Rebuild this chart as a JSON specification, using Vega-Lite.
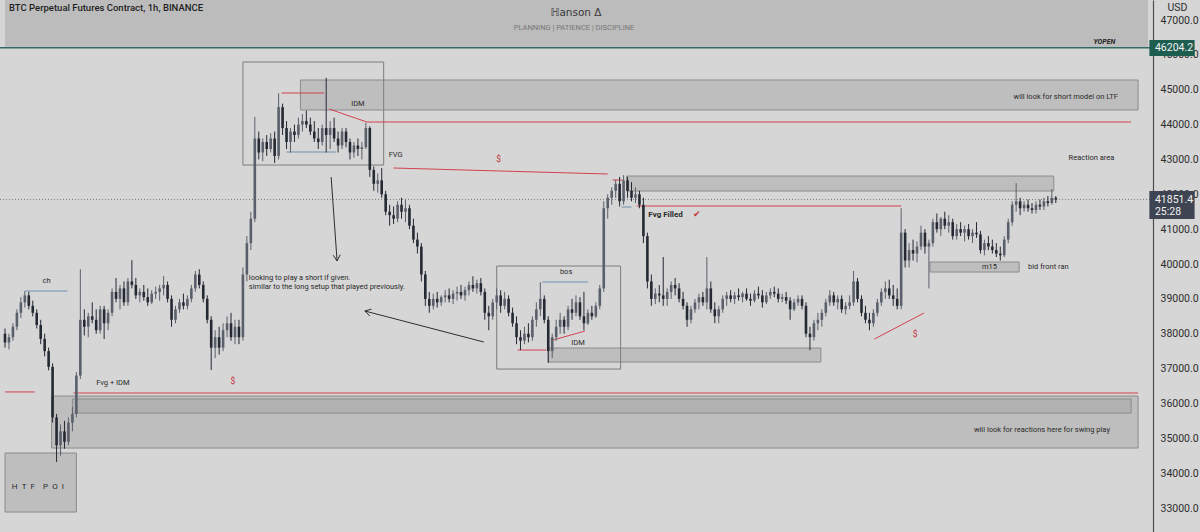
{
  "$schema": "https://vega.github.io/schema/vega-lite/v6.json",
  "width": 1153,
  "height": 532,
  "autosize": {"type": "none"},
  "padding": {"left": 0, "top": 0, "right": 47, "bottom": 0},
  "background": "#d6d6d6",
  "config": {"view": {"stroke": null}, "font": "Roboto"},
  "datasets": {
    "candles": [
      {"t":0,"o":38000,"h":38150,"l":37600,"c":37750},
      {"t":1,"o":37750,"h":38000,"l":37550,"c":37900},
      {"t":2,"o":37900,"h":38300,"l":37800,"c":38200},
      {"t":3,"o":38200,"h":38700,"l":38100,"c":38600},
      {"t":4,"o":38600,"h":39050,"l":38450,"c":38900},
      {"t":5,"o":38900,"h":39230,"l":38750,"c":39100},
      {"t":6,"o":39100,"h":39200,"l":38700,"c":38800},
      {"t":7,"o":38800,"h":38950,"l":38500,"c":38600},
      {"t":8,"o":38600,"h":38700,"l":38150,"c":38250},
      {"t":9,"o":38250,"h":38400,"l":37700,"c":37850},
      {"t":10,"o":37850,"h":38000,"l":37350,"c":37500},
      {"t":11,"o":37500,"h":37600,"l":36950,"c":37050},
      {"t":12,"o":37050,"h":37150,"l":35450,"c":35600},
      {"t":13,"o":35600,"h":35700,"l":34320,"c":34800},
      {"t":14,"o":34800,"h":35400,"l":34500,"c":35200},
      {"t":15,"o":35200,"h":35500,"l":34700,"c":34900},
      {"t":16,"o":34900,"h":35600,"l":34800,"c":35450},
      {"t":17,"o":35450,"h":35900,"l":35200,"c":35700},
      {"t":18,"o":35700,"h":36900,"l":35600,"c":36800},
      {"t":19,"o":36800,"h":39850,"l":36700,"c":38400},
      {"t":20,"o":38400,"h":38700,"l":37950,"c":38200},
      {"t":21,"o":38200,"h":38600,"l":37900,"c":38500},
      {"t":22,"o":38500,"h":38900,"l":38300,"c":38400},
      {"t":23,"o":38400,"h":38700,"l":38000,"c":38100},
      {"t":24,"o":38100,"h":38800,"l":38000,"c":38700},
      {"t":25,"o":38700,"h":38800,"l":37850,"c":38300},
      {"t":26,"o":38300,"h":38700,"l":38100,"c":38600},
      {"t":27,"o":38600,"h":39300,"l":38500,"c":39200},
      {"t":28,"o":39200,"h":39600,"l":38900,"c":39000},
      {"t":29,"o":39000,"h":39400,"l":38700,"c":39300},
      {"t":30,"o":39300,"h":39500,"l":38800,"c":38900},
      {"t":31,"o":38900,"h":39600,"l":38800,"c":39500},
      {"t":32,"o":39500,"h":40110,"l":39300,"c":39400},
      {"t":33,"o":39400,"h":39600,"l":39000,"c":39100},
      {"t":34,"o":39100,"h":39300,"l":38900,"c":39200},
      {"t":35,"o":39200,"h":39400,"l":38950,"c":39050},
      {"t":36,"o":39050,"h":39300,"l":38800,"c":38900},
      {"t":37,"o":38900,"h":39250,"l":38850,"c":39150},
      {"t":38,"o":39150,"h":39350,"l":39000,"c":39200},
      {"t":39,"o":39200,"h":39400,"l":38950,"c":39300},
      {"t":40,"o":39300,"h":39650,"l":39100,"c":39400},
      {"t":41,"o":39400,"h":39500,"l":38900,"c":39000},
      {"t":42,"o":39000,"h":39100,"l":38200,"c":38400},
      {"t":43,"o":38400,"h":38800,"l":38300,"c":38700},
      {"t":44,"o":38700,"h":39000,"l":38600,"c":38900},
      {"t":45,"o":38900,"h":39150,"l":38700,"c":38800},
      {"t":46,"o":38800,"h":39100,"l":38700,"c":39000},
      {"t":47,"o":39000,"h":39400,"l":38900,"c":39300},
      {"t":48,"o":39300,"h":39800,"l":39200,"c":39700},
      {"t":49,"o":39700,"h":39850,"l":39300,"c":39400},
      {"t":50,"o":39400,"h":39500,"l":38900,"c":39000},
      {"t":51,"o":39000,"h":39100,"l":38300,"c":38400},
      {"t":52,"o":38400,"h":38500,"l":36960,"c":37600},
      {"t":53,"o":37600,"h":38100,"l":37300,"c":37900},
      {"t":54,"o":37900,"h":38200,"l":37400,"c":37600},
      {"t":55,"o":37600,"h":38300,"l":37500,"c":38100},
      {"t":56,"o":38100,"h":38500,"l":37900,"c":38300},
      {"t":57,"o":38300,"h":38600,"l":37800,"c":37900},
      {"t":58,"o":37900,"h":38400,"l":37700,"c":38200},
      {"t":59,"o":38200,"h":38400,"l":37700,"c":37900},
      {"t":60,"o":37900,"h":39900,"l":37800,"c":39700},
      {"t":61,"o":39700,"h":40800,"l":39500,"c":40600},
      {"t":62,"o":40600,"h":41500,"l":40400,"c":41300},
      {"t":63,"o":41300,"h":44220,"l":41200,"c":43600},
      {"t":64,"o":43600,"h":43800,"l":43000,"c":43200},
      {"t":65,"o":43200,"h":43600,"l":42950,"c":43500},
      {"t":66,"o":43500,"h":43700,"l":43100,"c":43300},
      {"t":67,"o":43300,"h":43750,"l":43200,"c":43600},
      {"t":68,"o":43600,"h":43800,"l":42900,"c":43100},
      {"t":69,"o":43100,"h":44900,"l":43000,"c":44500},
      {"t":70,"o":44500,"h":44600,"l":43700,"c":43900},
      {"t":71,"o":43900,"h":44100,"l":43300,"c":43500},
      {"t":72,"o":43500,"h":43900,"l":43200,"c":43800},
      {"t":73,"o":43800,"h":44000,"l":43500,"c":43700},
      {"t":74,"o":43700,"h":44200,"l":43600,"c":44000},
      {"t":75,"o":44000,"h":44300,"l":43800,"c":44100},
      {"t":76,"o":44100,"h":44400,"l":43900,"c":44000},
      {"t":77,"o":44000,"h":44200,"l":43700,"c":43800},
      {"t":78,"o":43800,"h":44100,"l":43500,"c":43600},
      {"t":79,"o":43600,"h":43900,"l":43300,"c":43500},
      {"t":80,"o":43500,"h":44000,"l":43400,"c":43900},
      {"t":81,"o":43900,"h":45340,"l":43200,"c":43700},
      {"t":82,"o":43700,"h":44100,"l":43300,"c":43900},
      {"t":83,"o":43900,"h":44200,"l":43500,"c":43600},
      {"t":84,"o":43600,"h":43800,"l":43200,"c":43400},
      {"t":85,"o":43400,"h":43900,"l":43300,"c":43800},
      {"t":86,"o":43800,"h":43900,"l":43350,"c":43500},
      {"t":87,"o":43500,"h":43600,"l":43000,"c":43200},
      {"t":88,"o":43200,"h":43500,"l":43050,"c":43400},
      {"t":89,"o":43400,"h":43600,"l":43100,"c":43300},
      {"t":90,"o":43300,"h":43500,"l":43000,"c":43350},
      {"t":91,"o":43350,"h":44050,"l":43300,"c":43900},
      {"t":92,"o":43900,"h":43950,"l":42500,"c":42700},
      {"t":93,"o":42700,"h":42800,"l":42100,"c":42300},
      {"t":94,"o":42300,"h":42600,"l":42050,"c":42400},
      {"t":95,"o":42400,"h":42750,"l":41900,"c":42000},
      {"t":96,"o":42000,"h":42100,"l":41400,"c":41500},
      {"t":97,"o":41500,"h":41700,"l":41100,"c":41400},
      {"t":98,"o":41400,"h":41650,"l":41150,"c":41300},
      {"t":99,"o":41300,"h":41800,"l":41200,"c":41700},
      {"t":100,"o":41700,"h":41900,"l":41300,"c":41500},
      {"t":101,"o":41500,"h":41850,"l":41200,"c":41600},
      {"t":102,"o":41600,"h":41700,"l":41000,"c":41100},
      {"t":103,"o":41100,"h":41300,"l":40600,"c":40700},
      {"t":104,"o":40700,"h":40900,"l":40300,"c":40500},
      {"t":105,"o":40500,"h":40600,"l":39500,"c":39700},
      {"t":106,"o":39700,"h":39800,"l":38800,"c":39000},
      {"t":107,"o":39000,"h":39200,"l":38600,"c":38800},
      {"t":108,"o":38800,"h":39150,"l":38700,"c":39000},
      {"t":109,"o":39000,"h":39200,"l":38750,"c":38900},
      {"t":110,"o":38900,"h":39100,"l":38800,"c":39050},
      {"t":111,"o":39050,"h":39250,"l":38900,"c":39100},
      {"t":112,"o":39100,"h":39300,"l":38900,"c":39000},
      {"t":113,"o":39000,"h":39250,"l":38850,"c":39150},
      {"t":114,"o":39150,"h":39350,"l":38950,"c":39200},
      {"t":115,"o":39200,"h":39400,"l":39000,"c":39100},
      {"t":116,"o":39100,"h":39350,"l":38950,"c":39250},
      {"t":117,"o":39250,"h":39500,"l":39100,"c":39400},
      {"t":118,"o":39400,"h":39650,"l":39200,"c":39300},
      {"t":119,"o":39300,"h":39550,"l":39150,"c":39450},
      {"t":120,"o":39450,"h":39600,"l":39100,"c":39200},
      {"t":121,"o":39200,"h":39300,"l":38400,"c":38600},
      {"t":122,"o":38600,"h":38800,"l":38100,"c":38500},
      {"t":123,"o":38500,"h":39000,"l":38400,"c":38900},
      {"t":124,"o":38900,"h":39300,"l":38700,"c":39100},
      {"t":125,"o":39100,"h":39250,"l":38600,"c":38800},
      {"t":126,"o":38800,"h":39200,"l":38700,"c":39000},
      {"t":127,"o":39000,"h":39100,"l":38500,"c":38600},
      {"t":128,"o":38600,"h":38750,"l":38200,"c":38300},
      {"t":129,"o":38300,"h":38500,"l":37700,"c":37900},
      {"t":130,"o":37900,"h":38100,"l":37530,"c":37800},
      {"t":131,"o":37800,"h":38200,"l":37700,"c":38000},
      {"t":132,"o":38000,"h":38300,"l":37750,"c":37900},
      {"t":133,"o":37900,"h":38500,"l":37800,"c":38400},
      {"t":134,"o":38400,"h":38900,"l":38200,"c":38700},
      {"t":135,"o":38700,"h":39480,"l":38500,"c":39000},
      {"t":136,"o":39000,"h":39100,"l":38300,"c":38400},
      {"t":137,"o":38400,"h":38500,"l":37160,"c":37500},
      {"t":138,"o":37500,"h":38000,"l":37300,"c":37900},
      {"t":139,"o":37900,"h":38400,"l":37800,"c":38200},
      {"t":140,"o":38200,"h":38600,"l":38000,"c":38400},
      {"t":141,"o":38400,"h":38500,"l":38000,"c":38200},
      {"t":142,"o":38200,"h":38800,"l":38100,"c":38700},
      {"t":143,"o":38700,"h":39000,"l":38400,"c":38600},
      {"t":144,"o":38600,"h":39100,"l":38500,"c":38900},
      {"t":145,"o":38900,"h":39050,"l":38400,"c":38500},
      {"t":146,"o":38500,"h":39200,"l":38100,"c":38300},
      {"t":147,"o":38300,"h":38700,"l":38250,"c":38600},
      {"t":148,"o":38600,"h":38800,"l":38400,"c":38500},
      {"t":149,"o":38500,"h":38900,"l":38450,"c":38800},
      {"t":150,"o":38800,"h":39400,"l":38700,"c":39300},
      {"t":151,"o":39300,"h":41800,"l":39200,"c":41600},
      {"t":152,"o":41600,"h":42000,"l":41300,"c":41900},
      {"t":153,"o":41900,"h":42200,"l":41700,"c":42100},
      {"t":154,"o":42100,"h":42410,"l":41900,"c":42300},
      {"t":155,"o":42300,"h":42500,"l":41650,"c":41800},
      {"t":156,"o":41800,"h":42550,"l":41700,"c":42400},
      {"t":157,"o":42400,"h":42500,"l":41900,"c":42100},
      {"t":158,"o":42100,"h":42350,"l":41800,"c":41900},
      {"t":159,"o":41900,"h":42200,"l":41750,"c":42000},
      {"t":160,"o":42000,"h":42100,"l":41600,"c":41700},
      {"t":161,"o":41700,"h":41900,"l":40600,"c":40800},
      {"t":162,"o":40800,"h":40900,"l":39300,"c":39500},
      {"t":163,"o":39500,"h":39700,"l":38800,"c":39000},
      {"t":164,"o":39000,"h":39300,"l":38850,"c":39150},
      {"t":165,"o":39150,"h":39400,"l":38900,"c":39100},
      {"t":166,"o":39100,"h":40200,"l":38800,"c":39000},
      {"t":167,"o":39000,"h":39300,"l":38800,"c":39200},
      {"t":168,"o":39200,"h":39500,"l":39000,"c":39400},
      {"t":169,"o":39400,"h":39600,"l":39100,"c":39300},
      {"t":170,"o":39300,"h":39450,"l":38900,"c":39000},
      {"t":171,"o":39000,"h":39200,"l":38700,"c":38800},
      {"t":172,"o":38800,"h":38900,"l":38200,"c":38400},
      {"t":173,"o":38400,"h":38800,"l":38300,"c":38700},
      {"t":174,"o":38700,"h":39000,"l":38600,"c":38900},
      {"t":175,"o":38900,"h":39150,"l":38700,"c":39050},
      {"t":176,"o":39050,"h":39200,"l":38800,"c":38900},
      {"t":177,"o":38900,"h":40200,"l":38700,"c":39300},
      {"t":178,"o":39300,"h":39500,"l":38600,"c":38700},
      {"t":179,"o":38700,"h":38900,"l":38300,"c":38500},
      {"t":180,"o":38500,"h":38800,"l":38300,"c":38700},
      {"t":181,"o":38700,"h":39100,"l":38600,"c":39000},
      {"t":182,"o":39000,"h":39200,"l":38800,"c":39100},
      {"t":183,"o":39100,"h":39250,"l":38900,"c":39000},
      {"t":184,"o":39000,"h":39200,"l":38850,"c":39100},
      {"t":185,"o":39100,"h":39300,"l":38950,"c":39050},
      {"t":186,"o":39050,"h":39200,"l":38900,"c":39150},
      {"t":187,"o":39150,"h":39300,"l":38950,"c":39000},
      {"t":188,"o":39000,"h":39150,"l":38800,"c":38950},
      {"t":189,"o":38950,"h":39250,"l":38900,"c":39150},
      {"t":190,"o":39150,"h":39350,"l":39000,"c":39100},
      {"t":191,"o":39100,"h":39250,"l":38750,"c":38900},
      {"t":192,"o":38900,"h":39200,"l":38850,"c":39100},
      {"t":193,"o":39100,"h":39300,"l":39000,"c":39200},
      {"t":194,"o":39200,"h":39350,"l":39050,"c":39150},
      {"t":195,"o":39150,"h":39300,"l":38900,"c":39000},
      {"t":196,"o":39000,"h":39150,"l":38900,"c":39050},
      {"t":197,"o":39050,"h":39200,"l":38850,"c":38950},
      {"t":198,"o":38950,"h":39050,"l":38400,"c":38700},
      {"t":199,"o":38700,"h":39000,"l":38650,"c":38900},
      {"t":200,"o":38900,"h":39100,"l":38800,"c":39000},
      {"t":201,"o":39000,"h":39100,"l":38700,"c":38800},
      {"t":202,"o":38800,"h":38900,"l":37900,"c":38000},
      {"t":203,"o":38000,"h":38200,"l":37530,"c":37900},
      {"t":204,"o":37900,"h":38400,"l":37800,"c":38300},
      {"t":205,"o":38300,"h":38600,"l":38100,"c":38400},
      {"t":206,"o":38400,"h":38700,"l":38200,"c":38600},
      {"t":207,"o":38600,"h":39000,"l":38500,"c":38900},
      {"t":208,"o":38900,"h":39250,"l":38800,"c":39100},
      {"t":209,"o":39100,"h":39200,"l":38800,"c":38900},
      {"t":210,"o":38900,"h":39100,"l":38700,"c":39000},
      {"t":211,"o":39000,"h":39100,"l":38600,"c":38700},
      {"t":212,"o":38700,"h":38900,"l":38550,"c":38800},
      {"t":213,"o":38800,"h":39100,"l":38700,"c":38900},
      {"t":214,"o":38900,"h":39800,"l":38800,"c":39500},
      {"t":215,"o":39500,"h":39600,"l":38900,"c":39000},
      {"t":216,"o":39000,"h":39100,"l":38500,"c":38600},
      {"t":217,"o":38600,"h":38800,"l":38300,"c":38400},
      {"t":218,"o":38400,"h":38600,"l":38100,"c":38300},
      {"t":219,"o":38300,"h":38700,"l":38200,"c":38600},
      {"t":220,"o":38600,"h":39000,"l":38500,"c":38900},
      {"t":221,"o":38900,"h":39300,"l":38800,"c":39200},
      {"t":222,"o":39200,"h":39500,"l":39000,"c":39300},
      {"t":223,"o":39300,"h":39550,"l":39000,"c":39100},
      {"t":224,"o":39100,"h":39400,"l":38800,"c":39000},
      {"t":225,"o":39000,"h":39300,"l":38700,"c":38800},
      {"t":226,"o":38800,"h":41600,"l":38700,"c":40900},
      {"t":227,"o":40900,"h":41000,"l":39900,"c":40100},
      {"t":228,"o":40100,"h":40600,"l":39900,"c":40400},
      {"t":229,"o":40400,"h":40700,"l":40100,"c":40300},
      {"t":230,"o":40300,"h":40650,"l":40050,"c":40500},
      {"t":231,"o":40500,"h":41100,"l":40400,"c":40900},
      {"t":232,"o":40900,"h":41000,"l":40300,"c":40500},
      {"t":233,"o":40500,"h":40700,"l":39300,"c":40600},
      {"t":234,"o":40600,"h":41300,"l":40500,"c":41200},
      {"t":235,"o":41200,"h":41450,"l":40900,"c":41000},
      {"t":236,"o":41000,"h":41350,"l":40800,"c":41300},
      {"t":237,"o":41300,"h":41500,"l":41000,"c":41100},
      {"t":238,"o":41100,"h":41400,"l":40900,"c":41200},
      {"t":239,"o":41200,"h":41300,"l":40700,"c":40800},
      {"t":240,"o":40800,"h":41150,"l":40700,"c":41000},
      {"t":241,"o":41000,"h":41200,"l":40800,"c":40900},
      {"t":242,"o":40900,"h":41100,"l":40650,"c":41000},
      {"t":243,"o":41000,"h":41150,"l":40700,"c":40800},
      {"t":244,"o":40800,"h":41000,"l":40600,"c":40900},
      {"t":245,"o":40900,"h":41200,"l":40750,"c":40850},
      {"t":246,"o":40850,"h":40950,"l":40300,"c":40400},
      {"t":247,"o":40400,"h":40700,"l":40250,"c":40600},
      {"t":248,"o":40600,"h":40800,"l":40400,"c":40500},
      {"t":249,"o":40500,"h":40700,"l":40300,"c":40400},
      {"t":250,"o":40400,"h":40600,"l":40200,"c":40300},
      {"t":251,"o":40300,"h":40500,"l":40100,"c":40250},
      {"t":252,"o":40250,"h":40800,"l":40200,"c":40700},
      {"t":253,"o":40700,"h":41300,"l":40600,"c":41200},
      {"t":254,"o":41200,"h":41800,"l":41100,"c":41700},
      {"t":255,"o":41700,"h":42320,"l":41500,"c":41800},
      {"t":256,"o":41800,"h":41900,"l":41400,"c":41600},
      {"t":257,"o":41600,"h":41800,"l":41500,"c":41700},
      {"t":258,"o":41700,"h":41850,"l":41500,"c":41600},
      {"t":259,"o":41600,"h":41750,"l":41450,"c":41550},
      {"t":260,"o":41550,"h":41800,"l":41450,"c":41700},
      {"t":261,"o":41700,"h":41850,"l":41550,"c":41650},
      {"t":262,"o":41650,"h":41900,"l":41550,"c":41800},
      {"t":263,"o":41800,"h":41950,"l":41650,"c":41750},
      {"t":264,"o":41750,"h":42150,"l":41700,"c":41900},
      {"t":265,"o":41900,"h":41950,"l":41750,"c":41851.4}
    ],
    "zones": [
      {"x1":74.5,"x2":285.75,"y1":44418,"y2":45279},
      {"x1":156.75,"x2":264.5,"y1":42094,"y2":42524},
      {"x1":137,"x2":205.75,"y1":37188,"y2":37590},
      {"x1":233.25,"x2":255.75,"y1":39770,"y2":40057},
      {"x1":11.75,"x2":285.75,"y1":34720,"y2":36213},
      {"x1":0,"x2":18,"y1":32885,"y2":34578}
    ],
    "innerZones": [
      {"x1":17,"x2":284,"y1":35724,"y2":36127}
    ],
    "frames": [
      {"x1":60,"x2":95.5,"y1":42840,"y2":45795},
      {"x1":124,"x2":155.25,"y1":36987,"y2":39943}
    ],
    "segments": [
      {"kind":"liquidity","x1":0,"x2":7.5,"p1":36330,"p2":36330},
      {"kind":"liquidity","x1":17.25,"x2":285.75,"p1":36300,"p2":36300},
      {"kind":"liquidity","x1":69.75,"x2":80.5,"p1":44906,"p2":44906},
      {"kind":"liquidity","x1":81.75,"x2":91.25,"p1":44447,"p2":44074},
      {"kind":"liquidity","x1":91.25,"x2":284,"p1":44074,"p2":44074},
      {"kind":"liquidity","x1":98,"x2":152,"p1":42754,"p2":42582},
      {"kind":"liquidity","x1":153.25,"x2":155.75,"p1":42410,"p2":42410},
      {"kind":"liquidity","x1":159.25,"x2":226,"p1":41664,"p2":41664},
      {"kind":"liquidity","x1":129.25,"x2":136.5,"p1":37532,"p2":37532},
      {"kind":"liquidity","x1":138.25,"x2":146.25,"p1":37820,"p2":38077},
      {"kind":"liquidity","x1":219.25,"x2":231.75,"p1":37848,"p2":38594},
      {"kind":"structure","x1":5.25,"x2":15.75,"p1":39225,"p2":39225},
      {"kind":"structure","x1":71,"x2":83.5,"p1":43213,"p2":43213},
      {"kind":"structure","x1":135.5,"x2":147,"p1":39484,"p2":39484},
      {"kind":"structure","x1":155.5,"x2":158,"p1":41635,"p2":41635},
      {"kind":"arrow","x1":82.25,"x2":83.75,"p1":42496,"p2":40086},
      {"kind":"arrow","x1":83.75,"x2":84.53,"p1":40086,"p2":40267},
      {"kind":"arrow","x1":83.75,"x2":82.78,"p1":40086,"p2":40252},
      {"kind":"arrow","x1":120.75,"x2":90.75,"p1":37762,"p2":38652},
      {"kind":"arrow","x1":90.75,"x2":92,"p1":38652,"p2":38508},
      {"kind":"arrow","x1":90.75,"x2":92.43,"p1":38652,"p2":38706}
    ],
    "notesLeft": [
      {"t":61.5,"p":39598,"text":"looking to play a short if given."},
      {"t":61.5,"p":39340,"text":"similar to the long setup that played previously."},
      {"t":23,"p":36586,"text":"Fvg + IDM"},
      {"t":96.75,"p":43127,"text":"FVG"},
      {"t":258,"p":39914,"text":"bid front ran"}
    ],
    "notesCenter": [
      {"t":10.5,"p":39512,"text":"ch"},
      {"t":89,"p":44590,"text":"IDM"},
      {"t":141.5,"p":39770,"text":"bos"},
      {"t":144.5,"p":37733,"text":"IDM"},
      {"t":274,"p":43041,"text":"Reaction area"},
      {"t":267.5,"p":44791,"text":"will look for short model on LTF"},
      {"t":248.25,"p":39914,"text":"m15"},
      {"t":261.5,"p":35237,"text":"will look for reactions here for swing play"}
    ],
    "redMarks": [
      {"t":124.5,"p":43012,"text":"$"},
      {"t":57.5,"p":36643,"text":"$"},
      {"t":229.5,"p":37992,"text":"$"},
      {"t":174.5,"p":41434,"text":"✔"}
    ]
  },
  "encoding": {
    "x": {"type": "quantitative", "scale": {"domain": [0, 288.25], "nice": false, "zero": false}, "axis": null},
    "y": {
      "type": "quantitative",
      "scale": {"domain": [32312, 47574], "nice": false, "zero": false},
      "axis": {
        "orient": "right", "values": [33000,34000,35000,36000,37000,38000,39000,40000,41000,42000,43000,44000,45000,46000,47000],
        "format": ".1f", "labelFontSize": 10.5, "labelColor": "#2e2e2e", "labelPadding": 7, "labelFont": "Roboto",
        "ticks": false, "grid": false, "domainColor": "#4d4d4d", "domainWidth": 1.2, "labelOverlap": false, "labelFlush": false,
        "title": "USD", "titleAngle": 0, "titleAlign": "center", "titleBaseline": "middle", "titleX": 24, "titleY": 7,
        "titleFontSize": 10.5, "titleFontWeight": "normal", "titleColor": "#2e2e2e", "titleFont": "Roboto"
      }
    }
  },
  "layer": [
    {
      "data": {"values": [{"x1": 0, "x2": 288.25, "y1": 46204.2, "y2": 47574}]},
      "mark": {"type": "rect", "fill": "#bcbcbc"},
      "encoding": {"x": {"field": "x1"}, "x2": {"field": "x2"}, "y": {"field": "y1"}, "y2": {"field": "y2"}}
    },
    {
      "data": {"name": "zones"},
      "mark": {"type": "rect", "fill": "#bebebe", "stroke": "#8c8c8c", "strokeWidth": 1},
      "encoding": {"x": {"field": "x1"}, "x2": {"field": "x2"}, "y": {"field": "y1"}, "y2": {"field": "y2"}}
    },
    {
      "data": {"name": "innerZones"},
      "mark": {"type": "rect", "fill": "#b1b1b1", "stroke": "#8c8c8c", "strokeWidth": 1},
      "encoding": {"x": {"field": "x1"}, "x2": {"field": "x2"}, "y": {"field": "y1"}, "y2": {"field": "y2"}}
    },
    {
      "data": {"name": "frames"},
      "mark": {"type": "rect", "fill": null, "fillOpacity": 0, "stroke": "#7d7d7d", "strokeWidth": 1},
      "encoding": {"x": {"field": "x1"}, "x2": {"field": "x2"}, "y": {"field": "y1"}, "y2": {"field": "y2"}}
    },
    {
      "data": {"values": [{"p": 46204.2}]},
      "mark": {"type": "rule", "color": "#2f6a64", "strokeWidth": 1.6},
      "encoding": {"y": {"field": "p"}}
    },
    {
      "data": {"values": [{"p": 41851.4}]},
      "mark": {"type": "rule", "color": "#808080", "strokeWidth": 1, "strokeDash": [1, 2]},
      "encoding": {"y": {"field": "p"}}
    },
    {
      "data": {"name": "segments"},
      "mark": {"type": "rule", "strokeWidth": 1},
      "encoding": {
        "x": {"field": "x1"}, "x2": {"field": "x2"},
        "y": {"field": "p1"}, "y2": {"field": "p2"},
        "color": {"field": "kind", "type": "nominal", "legend": null,
          "scale": {"domain": ["liquidity", "structure", "arrow"], "range": ["#d1434f", "#6f8fb3", "#2e2e2e"]}}
      }
    },
    {
      "data": {"name": "candles"},
      "mark": {"type": "rule", "strokeWidth": 1},
      "encoding": {
        "x": {"field": "t"},
        "y": {"field": "l"}, "y2": {"field": "h"},
        "color": {"condition": {"test": "datum.c >= datum.o", "value": "#5a606b"}, "value": "#242933"}
      }
    },
    {
      "data": {"name": "candles"},
      "mark": {"type": "bar", "size": 2.6},
      "encoding": {
        "x": {"field": "t"},
        "y": {"field": "o"}, "y2": {"field": "c"},
        "color": {"condition": {"test": "datum.c >= datum.o", "value": "#5a606b"}, "value": "#242933"}
      }
    },
    {
      "data": {"name": "notesLeft"},
      "mark": {"type": "text", "align": "left", "baseline": "middle", "fontSize": 7.5, "color": "#2a2a2a"},
      "encoding": {"x": {"field": "t"}, "y": {"field": "p"}, "text": {"field": "text"}}
    },
    {
      "data": {"name": "notesCenter"},
      "mark": {"type": "text", "align": "center", "baseline": "middle", "fontSize": 7.5, "color": "#2a2a2a"},
      "encoding": {"x": {"field": "t"}, "y": {"field": "p"}, "text": {"field": "text"}}
    },
    {
      "data": {"values": [{"t": 8.3, "p": 33602, "text": "H\u2002T\u2002F\u2003P\u2002O\u2002I"}]},
      "mark": {"type": "text", "align": "center", "baseline": "middle", "fontSize": 8, "color": "#2a2a2a"},
      "encoding": {"x": {"field": "t"}, "y": {"field": "p"}, "text": {"field": "text"}}
    },
    {
      "data": {"values": [{"t": 162.25, "p": 41406, "text": "Fvg Filled"}]},
      "mark": {"type": "text", "align": "left", "baseline": "middle", "fontSize": 8, "fontWeight": "bold", "color": "#2a2a2a"},
      "encoding": {"x": {"field": "t"}, "y": {"field": "p"}, "text": {"field": "text"}}
    },
    {
      "data": {"name": "redMarks"},
      "mark": {"type": "text", "align": "center", "baseline": "middle", "fontSize": 8.5, "color": "#c2343f"},
      "encoding": {"x": {"field": "t"}, "y": {"field": "p"}, "text": {"field": "text"}}
    },
    {
      "data": {"values": [{"t": 1, "p": 47344, "text": "BTC Perpetual Futures Contract, 1h, BINANCE"}]},
      "mark": {"type": "text", "align": "left", "baseline": "middle", "fontSize": 9.5, "fontWeight": 500, "color": "#1f1f1f"},
      "encoding": {"x": {"field": "t"}, "y": {"field": "p"}, "text": {"field": "text"}}
    },
    {
      "data": {"values": [{"t": 144, "p": 47201, "text": "ℍanson Δ"}]},
      "mark": {"type": "text", "align": "center", "baseline": "middle", "fontSize": 10.5, "color": "#3a3a3a", "font": "DejaVu Sans"},
      "encoding": {"x": {"field": "t"}, "y": {"field": "p"}, "text": {"field": "text"}}
    },
    {
      "data": {"values": [{"t": 143.5, "p": 46771, "text": "PLANNING | PATIENCE  |  DISCIPLINE"}]},
      "mark": {"type": "text", "align": "center", "baseline": "middle", "fontSize": 7.5, "color": "#777777"},
      "encoding": {"x": {"field": "t"}, "y": {"field": "p"}, "text": {"field": "text"}}
    },
    {
      "data": {"values": [{"t": 280, "p": 46369, "text": "YOPEN"}]},
      "mark": {"type": "text", "align": "right", "baseline": "middle", "fontSize": 7, "fontWeight": "bold", "fontStyle": "italic", "color": "#222222"},
      "encoding": {"x": {"field": "t"}, "y": {"field": "p"}, "text": {"field": "text"}}
    },
    {
      "data": {"values": [{"x1": 288.6, "x2": 300, "y1": 45967, "y2": 46426}]},
      "mark": {"type": "rect", "fill": "#1d5e50"},
      "encoding": {"x": {"field": "x1"}, "x2": {"field": "x2"}, "y": {"field": "y1"}, "y2": {"field": "y2"}}
    },
    {
      "data": {"values": [{"x1": 288.6, "x2": 300, "y1": 41291, "y2": 42094}]},
      "mark": {"type": "rect", "fill": "#3e4451"},
      "encoding": {"x": {"field": "x1"}, "x2": {"field": "x2"}, "y": {"field": "y1"}, "y2": {"field": "y2"}}
    },
    {
      "data": {"values": [
        {"t": 290, "p": 46197, "text": "46204.2"},
        {"t": 290, "p": 41836, "text": "41851.4"},
        {"t": 290, "p": 41492, "text": "25:28"}
      ]},
      "mark": {"type": "text", "align": "left", "baseline": "middle", "fontSize": 10.5, "color": "#f2f2f2"},
      "encoding": {"x": {"field": "t"}, "y": {"field": "p"}, "text": {"field": "text"}}
    }
  ]
}
